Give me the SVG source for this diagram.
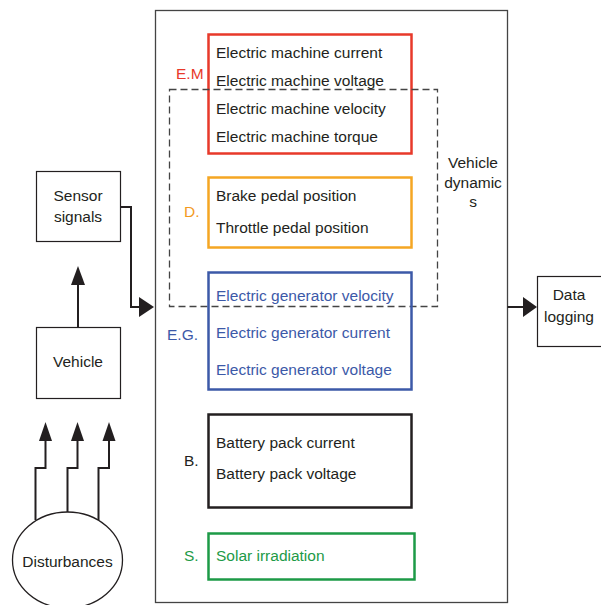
<svg xmlns="http://www.w3.org/2000/svg" width="601" height="605" viewBox="0 0 601 605">
<style>
text{font-family:"Liberation Sans",Arial,sans-serif;font-size:15.5px;fill:#231f20}
.c{text-anchor:middle}
.box{fill:#fff;stroke:#231f20;stroke-width:1.2}
.red{fill:#e8392a}.org{fill:#f39a1e}.blu{fill:#3c59a8}.grn{fill:#1d9a47}
.ln{fill:none;stroke:#231f20;stroke-width:2}
.ah{fill:#231f20}
</style>
<rect width="601" height="605" fill="#fff"/>

<g id="main">
<rect x="155.5" y="10.5" width="352" height="592" fill="#fff" stroke="#444" stroke-width="1.3"/>
</g>

<g id="em">
<rect x="208.5" y="34.5" width="203" height="119" fill="none" stroke="#e8392a" stroke-width="2.5"/>
<text x="216" y="58">Electric machine current</text>
<text x="216" y="86">Electric machine voltage</text>
<text x="216" y="114">Electric machine velocity</text>
<text x="216" y="142">Electric machine torque</text>
<text x="176" y="79" class="red">E.M</text>
</g>

<g id="dynamics">
<rect x="169.5" y="89.5" width="268" height="217" fill="none" stroke="#444" stroke-width="1.3" stroke-dasharray="7,4"/>
<text x="473" y="168" class="c">Vehicle</text>
<text x="473" y="188" class="c">dynamic</text>
<text x="473" y="207" class="c">s</text>
</g>

<g id="d">
<rect x="208.5" y="177.5" width="203" height="70" fill="none" stroke="#f5a623" stroke-width="2.5"/>
<text x="216" y="201">Brake pedal position</text>
<text x="216" y="233">Throttle pedal position</text>
<text x="184" y="217" class="org">D.</text>
</g>

<g id="eg">
<rect x="208.5" y="272.5" width="203" height="117" fill="none" stroke="#3c59a8" stroke-width="2.5"/>
<text x="216" y="301" class="blu">Electric generator velocity</text>
<text x="216" y="338" class="blu">Electric generator current</text>
<text x="216" y="375" class="blu">Electric generator voltage</text>
<text x="167" y="340" class="blu">E.G.</text>
</g>

<g id="b">
<rect x="208.5" y="414.5" width="203" height="93" fill="none" stroke="#231f20" stroke-width="2.5"/>
<text x="216" y="448">Battery pack current</text>
<text x="216" y="479">Battery pack voltage</text>
<text x="184" y="466">B.</text>
</g>

<g id="s">
<rect x="208.5" y="533.5" width="206" height="46" fill="none" stroke="#1d9a47" stroke-width="2.5"/>
<text x="216" y="561" class="grn">Solar irradiation</text>
<text x="184" y="561" class="grn">S.</text>
</g>

<g id="sensor">
<rect class="box" x="36.5" y="171.5" width="84" height="70"/>
<text x="78" y="201" class="c">Sensor</text>
<text x="78" y="222" class="c">signals</text>
</g>

<g id="vehicle">
<rect class="box" x="36.5" y="327.5" width="84" height="71"/>
<text x="78" y="367" class="c">Vehicle</text>
</g>

<g id="datalog">
<rect class="box" x="537.5" y="276.5" width="70" height="70"/>
<text x="569" y="300" class="c">Data</text>
<text x="569" y="322" class="c">logging</text>
</g>

<g id="disturbances">
<ellipse cx="67.5" cy="560" rx="55" ry="48" fill="#fff" stroke="#231f20" stroke-width="1.3"/>
<text x="67.5" y="567" class="c">Disturbances</text>
</g>

<g id="connectors">
<path d="M120.5,207 H131 V307 H140" class="ln" stroke-width="2.5"/>
<path d="M139,297 L154,307 L139,317 z" class="ah"/>
<path d="M507.5,307 H524" class="ln" stroke-width="2.5"/>
<path d="M523,297 L537,307 L523,317 z" class="ah"/>
<path d="M78,327 V284" class="ln" stroke-width="1.6"/>
<path d="M71,285 L78,266 L85,285 z" class="ah"/>
<path d="M35.5,520 V468 H45.5 V440" class="ln" stroke-width="1.6"/>
<path d="M39,441 L45.5,422 L52,441 z" class="ah"/>
<path d="M67.5,512 V468 H77.5 V440" class="ln" stroke-width="1.6"/>
<path d="M71,441 L77.5,422 L84,441 z" class="ah"/>
<path d="M98.5,520 V468 H109 V440" class="ln" stroke-width="1.6"/>
<path d="M102.5,441 L109,422 L115.5,441 z" class="ah"/>
</g>
</svg>
